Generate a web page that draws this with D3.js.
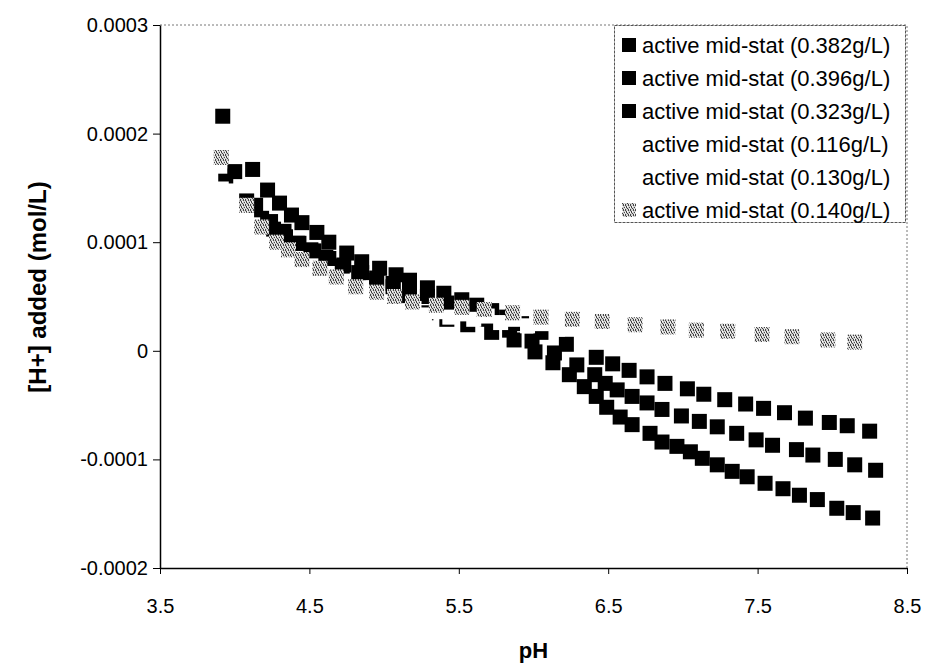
<!DOCTYPE html>
<html>
<head>
<meta charset="utf-8">
<script src="https://cdn.jsdelivr.net/npm/d3@7"></script>
<style>
  body { margin: 0; background: #fff; }
  svg { display: block; }
  text { font-family: "Liberation Sans", Arial, Helvetica, sans-serif; fill: #000; }
</style>
</head>
<body>
<svg id="chart" width="926" height="665"></svg>
<script>
// Axis ticks
const xTicks = [3.5, 4.5, 5.5, 6.5, 7.5, 8.5];
const xTickLabels = ["3.5", "4.5", "5.5", "6.5", "7.5", "8.5"];
const yTicks = [-0.0002, -0.0001, 0, 0.0001, 0.0002, 0.0003];
const yTickLabels = ["-0.0002", "-0.0001", "0", "0.0001", "0.0002", "0.0003"];

// Series names (legend order = draw order)
const seriesNames = [
  "active mid-stat (0.382g/L)",
  "active mid-stat (0.396g/L)",
  "active mid-stat (0.323g/L)",
  "active mid-stat (0.116g/L)",
  "active mid-stat (0.130g/L)",
  "active mid-stat (0.140g/L)"
];

// pH / [H+] added (mol/L) for each titration
const pH_382 = [3.92,4.12,4.22,4.30,4.38,4.45,4.55,4.63,4.75,4.85,4.97,5.08,5.17,5.29,5.40,5.52,5.62,5.72,5.82,5.92,6.05,6.22,6.42,6.53,6.64,6.76,6.88,7.03,7.14,7.28,7.42,7.54,7.68,7.82,7.98,8.10,8.25];
const h_382 = [2.16e-4,1.67e-4,1.48e-4,1.36e-4,1.25e-4,1.18e-4,1.09e-4,1.00e-4,0.90e-4,0.82e-4,0.76e-4,0.70e-4,0.65e-4,0.58e-4,0.53e-4,0.47e-4,0.42e-4,0.37e-4,0.31e-4,0.25e-4,0.17e-4,0.06e-4,-0.06e-4,-0.12e-4,-0.18e-4,-0.24e-4,-0.30e-4,-0.35e-4,-0.40e-4,-0.45e-4,-0.49e-4,-0.53e-4,-0.57e-4,-0.62e-4,-0.66e-4,-0.69e-4,-0.74e-4];

const pH_396 = [4.00,4.08,4.18,4.26,4.34,4.43,4.53,4.63,4.73,4.85,4.95,5.06,5.17,5.29,5.42,5.55,5.69,5.84,5.99,6.14,6.29,6.41,6.48,6.56,6.66,6.76,6.86,6.99,7.11,7.23,7.36,7.49,7.60,7.76,7.87,8.02,8.15,8.29];
const h_396 = [1.65e-4,1.38e-4,1.22e-4,1.12e-4,1.05e-4,0.99e-4,0.92e-4,0.85e-4,0.79e-4,0.72e-4,0.67e-4,0.62e-4,0.56e-4,0.50e-4,0.44e-4,0.37e-4,0.29e-4,0.19e-4,0.09e-4,-0.02e-4,-0.13e-4,-0.22e-4,-0.30e-4,-0.36e-4,-0.42e-4,-0.48e-4,-0.54e-4,-0.60e-4,-0.65e-4,-0.70e-4,-0.76e-4,-0.82e-4,-0.87e-4,-0.91e-4,-0.96e-4,-1.00e-4,-1.05e-4,-1.10e-4];

const pH_323 = [3.94,4.14,4.24,4.33,4.42,4.51,4.61,4.72,4.83,4.95,5.06,5.17,5.28,5.42,5.56,5.72,5.87,6.01,6.13,6.24,6.34,6.42,6.49,6.58,6.66,6.78,6.86,6.96,7.05,7.13,7.23,7.33,7.43,7.55,7.67,7.78,7.90,8.03,8.14,8.27];
const h_323 = [1.61e-4,1.34e-4,1.19e-4,1.10e-4,0.99e-4,0.93e-4,0.86e-4,0.78e-4,0.72e-4,0.65e-4,0.59e-4,0.47e-4,0.35e-4,0.29e-4,0.24e-4,0.17e-4,0.10e-4,-0.01e-4,-0.11e-4,-0.22e-4,-0.33e-4,-0.42e-4,-0.52e-4,-0.61e-4,-0.68e-4,-0.76e-4,-0.84e-4,-0.88e-4,-0.93e-4,-0.99e-4,-1.05e-4,-1.11e-4,-1.16e-4,-1.22e-4,-1.27e-4,-1.33e-4,-1.37e-4,-1.45e-4,-1.49e-4,-1.54e-4];

const pH_116 = [3.91,4.12,4.22,4.31,4.40,4.50,4.62,4.74,4.88,5.01,5.13,5.27,5.44,5.60,5.78,5.96,6.16,6.36,6.57,6.79,7.00,7.20,7.42,7.63,7.85,8.06];
const h_116 = [1.49e-4,1.16e-4,0.98e-4,0.87e-4,0.79e-4,0.71e-4,0.62e-4,0.54e-4,0.46e-4,0.42e-4,0.37e-4,0.33e-4,0.31e-4,0.29e-4,0.26e-4,0.23e-4,0.20e-4,0.18e-4,0.15e-4,0.13e-4,0.10e-4,0.08e-4,0.06e-4,0.04e-4,0.01e-4,-0.01e-4];

const pH_130 = [3.90,4.16,4.26,4.35,4.45,4.56,4.68,4.81,4.94,5.07,5.20,5.35,5.52,5.69,5.87,6.06,6.26,6.46,6.68,6.89,7.10,7.31,7.52,7.74,7.95,8.12];
const h_130 = [1.70e-4,1.12e-4,0.97e-4,0.88e-4,0.78e-4,0.71e-4,0.62e-4,0.53e-4,0.48e-4,0.44e-4,0.39e-4,0.36e-4,0.34e-4,0.32e-4,0.29e-4,0.25e-4,0.23e-4,0.21e-4,0.18e-4,0.16e-4,0.13e-4,0.12e-4,0.09e-4,0.07e-4,0.04e-4,0.02e-4];

const pH_140 = [3.91,4.08,4.18,4.28,4.36,4.45,4.57,4.68,4.81,4.95,5.07,5.19,5.35,5.52,5.67,5.86,6.05,6.26,6.46,6.68,6.90,7.09,7.30,7.53,7.73,7.97,8.15];
const h_140 = [1.78e-4,1.34e-4,1.14e-4,1.00e-4,0.93e-4,0.84e-4,0.76e-4,0.68e-4,0.59e-4,0.54e-4,0.50e-4,0.45e-4,0.42e-4,0.40e-4,0.38e-4,0.35e-4,0.31e-4,0.29e-4,0.27e-4,0.24e-4,0.22e-4,0.19e-4,0.18e-4,0.15e-4,0.13e-4,0.10e-4,0.08e-4];

const seriesX = [pH_382, pH_396, pH_323, pH_116, pH_130, pH_140];
const seriesY = [h_382, h_396, h_323, h_116, h_130, h_140];
const seriesFill = ["#000", "#000", "#000", "#fff", "#fff", "url(#stipple)"];

const svg = d3.select("#chart");
const plot = { left: 160, right: 907, top: 25, bottom: 568 };

// Stippled grey fill for the last series
const defs = svg.append("defs");
const pat = defs.append("pattern")
  .attr("id", "stipple").attr("patternUnits", "userSpaceOnUse")
  .attr("width", 5).attr("height", 5);
pat.append("rect").attr("width", 5).attr("height", 5).attr("fill", "#d0d0d0");
[[0,0],[3,0],[1,1],[4,2],[2,3],[0,4],[3,4],[1,2]].forEach(([px, py]) =>
  pat.append("rect").attr("x", px).attr("y", py).attr("width", 1).attr("height", 1).attr("fill", "#444"));
[[2,1],[4,4],[0,2]].forEach(([px, py]) =>
  pat.append("rect").attr("x", px).attr("y", py).attr("width", 1).attr("height", 1).attr("fill", "#fff"));

const x = d3.scaleLinear().domain([3.5, 8.5]).range([plot.left, plot.right]);
const y = d3.scaleLinear().domain([-0.0002, 0.0003]).range([plot.bottom, plot.top]);

// Plot area frame: dotted top and right edges
svg.append("path")
  .attr("d", `M${plot.left},${plot.top}H${plot.right}V${plot.bottom}`)
  .attr("fill", "none").attr("stroke", "#777").attr("stroke-width", 1)
  .attr("stroke-dasharray", "2,2");

// Axes
const xAxis = d3.axisBottom(x).tickValues(xTicks)
  .tickFormat((d, i) => xTickLabels[i]).tickSizeInner(6).tickSizeOuter(0).tickPadding(25);
const yAxis = d3.axisLeft(y).tickValues(yTicks)
  .tickFormat((d, i) => yTickLabels[i]).tickSizeInner(7).tickSizeOuter(0).tickPadding(5);

const gx = svg.append("g").attr("transform", `translate(0,${plot.bottom})`).call(xAxis);
const gy = svg.append("g").attr("transform", `translate(${plot.left},0)`).call(yAxis);
[gx, gy].forEach(g => {
  g.select(".domain").attr("stroke", "#000").attr("stroke-width", 1.5);
  g.selectAll(".tick line").attr("stroke", "#000").attr("stroke-width", 1);
  g.selectAll(".tick text").attr("font-size", 20).attr("font-family", "Liberation Sans, Arial, sans-serif");
});

// Axis titles
svg.append("text")
  .attr("x", x(6.0)).attr("y", 658)
  .attr("text-anchor", "middle").attr("font-size", 22).attr("font-weight", "bold")
  .text("pH");
svg.append("text")
  .attr("transform", `translate(46,287) rotate(-90)`)
  .attr("text-anchor", "middle").attr("font-size", 24).attr("font-weight", "bold")
  .text("[H+] added (mol/L)");

// Markers
const marker = 15;
seriesNames.forEach((name, si) => {
  const pts = seriesX[si].map((v, i) => [v, seriesY[si][i]]);
  svg.append("g").selectAll("rect").data(pts).join("rect")
    .attr("x", d => x(d[0]) - marker / 2)
    .attr("y", d => y(d[1]) - marker / 2)
    .attr("width", marker).attr("height", marker)
    .attr("fill", seriesFill[si]);
});

// Legend
const lg = svg.append("g");
lg.append("rect").attr("x", 614.5).attr("y", 25.5).attr("width", 291).attr("height", 197)
  .attr("fill", "#fff").attr("stroke", "#555").attr("stroke-width", 1).attr("stroke-dasharray", "3,1");
seriesNames.forEach((name, i) => {
  const cy = 45 + i * 33;
  lg.append("rect").attr("x", 622).attr("y", cy - 7).attr("width", 14).attr("height", 14)
    .attr("fill", seriesFill[i]);
  lg.append("text").attr("x", 642).attr("y", cy + 8).attr("font-size", 22).text(name);
});
</script>
</body>
</html>
